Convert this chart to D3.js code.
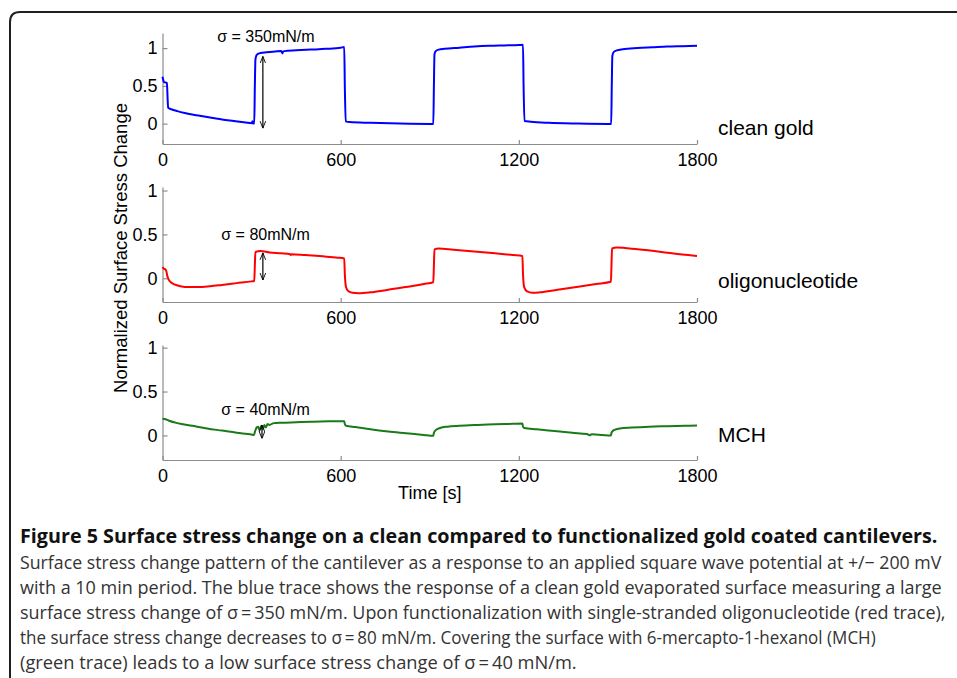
<!DOCTYPE html>
<html>
<head>
<meta charset="utf-8">
<script src="https://cdn.jsdelivr.net/npm/d3@7"></script>
<style>
  html, body { margin: 0; padding: 0; background: #ffffff; }
  svg { display: block; }
</style>
</head>
<body>
<div id="chart"></div>
<script>
// ---------------- data ----------------
const xTicks = [0, 600, 1200, 1800];
const yTicks = [0, 0.5, 1];
const panelNames = ["clean gold", "oligonucleotide", "MCH"];
const sigmaLabels = ["σ = 350mN/m", "σ = 80mN/m", "σ = 40mN/m"];
const xLabel = "Time [s]";
const yLabel = "Normalized Surface Stress Change";

// clean gold (blue) trace: [time s, normalized change]
const cleanGold = [
  [0,0.62],[3,0.57],[5,0.55],[15,0.54],[17,0.35],[19,0.21],[30,0.19],[50,0.165],[75,0.14],
  [100,0.12],[130,0.10],[160,0.08],[200,0.055],[240,0.035],[280,0.015],[300,0.005],[303,0.03],
  [305,0.0],[309,0.0],[311,0.5],[313,0.85],[316,0.9],[320,0.92],[330,0.935],[350,0.945],
  [380,0.955],[400,0.96],[404,0.93],[406,0.955],[410,0.96],[450,0.97],[500,0.98],[550,0.99],
  [600,1.005],[612,1.015],[614,0.5],[617,0.03],[630,0.02],[700,0.01],[800,0.0],[900,-0.005],
  [912,-0.005],[914,0.5],[916,0.92],[920,0.96],[930,0.98],[950,0.99],[1000,1.005],[1050,1.02],
  [1100,1.03],[1150,1.035],[1200,1.04],[1214,1.045],[1216,0.5],[1219,0.035],[1240,0.025],
  [1300,0.01],[1400,0.0],[1500,-0.005],[1511,-0.005],[1513,0.5],[1515,0.9],[1520,0.95],
  [1530,0.97],[1550,0.985],[1600,1.0],[1650,1.01],[1700,1.02],[1750,1.025],[1800,1.03]
];

// oligonucleotide (red) trace
const oligo = [
  [0,0.13],[4,0.11],[10,0.10],[13,0.08],[16,0.03],[20,-0.01],[28,-0.045],[40,-0.07],[60,-0.09],
  [90,-0.1],[120,-0.1],[160,-0.09],[200,-0.075],[250,-0.055],[300,-0.035],[309,-0.03],[311,0.15],
  [313,0.3],[330,0.31],[360,0.295],[400,0.285],[430,0.275],[432,0.265],[434,0.275],[480,0.265],
  [540,0.25],[590,0.235],[612,0.225],[614,0.05],[618,-0.1],[625,-0.145],[640,-0.165],[660,-0.17],
  [700,-0.16],[760,-0.13],[820,-0.1],[880,-0.065],[912,-0.045],[914,0.15],[916,0.33],[930,0.34],
  [980,0.325],[1050,0.305],[1120,0.285],[1180,0.265],[1212,0.255],[1214,0.05],[1218,-0.1],
  [1228,-0.15],[1245,-0.165],[1270,-0.16],[1330,-0.13],[1400,-0.095],[1460,-0.065],[1510,-0.04],
  [1512,0.15],[1514,0.34],[1530,0.35],[1600,0.33],[1680,0.3],[1750,0.27],[1800,0.255]
];

// MCH (green) trace
const mch = [
  [0,0.19],[10,0.185],[20,0.17],[50,0.14],[100,0.11],[150,0.08],[200,0.055],[250,0.03],[300,0.01],
  [308,0.005],[312,0.05],[317,0.09],[322,0.10],[327,0.06],[333,0.11],[338,0.07],[343,0.12],
  [348,0.09],[354,0.13],[360,0.12],[375,0.14],[400,0.145],[450,0.15],[500,0.155],[560,0.16],
  [612,0.162],[614,0.13],[618,0.11],[650,0.095],[700,0.07],[760,0.045],[820,0.025],[880,0.005],
  [912,-0.005],[914,0.03],[920,0.06],[935,0.085],[960,0.1],[1000,0.11],[1060,0.12],[1120,0.128],
  [1180,0.132],[1212,0.135],[1214,0.1],[1218,0.085],[1260,0.07],[1320,0.05],[1380,0.03],
  [1430,0.015],[1438,0.003],[1446,0.012],[1480,0.005],[1510,-0.002],[1512,0.03],[1520,0.06],
  [1540,0.08],[1580,0.09],[1640,0.1],[1700,0.105],[1760,0.11],[1800,0.112]
];

// double arrows marking sigma: [time, top value, bottom value]
const sigmaArrows = [
  [338, 0.89, -0.06],
  [338, 0.29, -0.02],
  [335, 0.12, -0.035]
];

const captionTitle = "Figure 5 Surface stress change on a clean compared to functionalized gold coated cantilevers.";
const captionLines = [
  "Surface stress change pattern of the cantilever as a response to an applied square wave potential at +/\u2212 200 mV",
  "with a 10 min period. The blue trace shows the response of a clean gold evaporated surface measuring a large",
  "surface stress change of \u03c3\u2009=\u2009350 mN/m. Upon functionalization with single-stranded oligonucleotide (red trace),",
  "the surface stress change decreases to \u03c3\u2009=\u200980 mN/m. Covering the surface with 6-mercapto-1-hexanol (MCH)",
  "(green trace) leads to a low surface stress change of \u03c3\u2009=\u200940 mN/m."
];

// ---------------- layout ----------------
const W = 957, H = 678;
const series = [cleanGold, oligo, mch];
const colors = ["#0000ff", "#ff0000", "#1a7a1a"];
const panels = [
  {top: 33,  bottom: 144, dom: [-0.27, 1.2]},
  {top: 187, bottom: 302, dom: [-0.27, 1.04]},
  {top: 345, bottom: 460, dom: [-0.28, 1.03]}
];
const sigmaPos = [[184, 1.08], [198, 0.437], [198, 0.233]];
const nameBaselines = [135, 288, 442];
const chartFont = "'Liberation Sans', Arial, Helvetica, sans-serif";

const svg = d3.select("#chart").append("svg")
  .attr("width", W).attr("height", H)
  .attr("viewBox", `0 0 ${W} ${H}`);

svg.append("rect").attr("width", W).attr("height", H).attr("fill", "#fff");

// frame (top and left border with rounded corner)
svg.append("path")
  .attr("d", `M 10 ${H} L 10 22 Q 10 12 20 12 L ${W} 12`)
  .attr("fill", "none").attr("stroke", "#231f20").attr("stroke-width", 2);

// arrow markers
const defs = svg.append("defs");
defs.append("marker").attr("id", "ahEnd")
  .attr("viewBox", "0 0 10 10").attr("refX", 10).attr("refY", 5)
  .attr("markerWidth", 7).attr("markerHeight", 7).attr("markerUnits", "userSpaceOnUse")
  .attr("orient", "auto")
  .append("path").attr("d", "M0,1 L10,5 L0,9").attr("fill", "none").attr("stroke", "#000").attr("stroke-width", 1.3);
defs.append("marker").attr("id", "ahStart")
  .attr("viewBox", "0 0 10 10").attr("refX", 0).attr("refY", 5)
  .attr("markerWidth", 7).attr("markerHeight", 7).attr("markerUnits", "userSpaceOnUse")
  .attr("orient", "auto")
  .append("path").attr("d", "M10,1 L0,5 L10,9").attr("fill", "none").attr("stroke", "#000").attr("stroke-width", 1.3);

const x = d3.scaleLinear().domain([0, 1800]).range([162.5, 697]);

panels.forEach((p, i) => {
  const y = d3.scaleLinear().domain(p.dom).range([p.bottom, p.top]);
  const g = svg.append("g");

  // x axis
  const xa = g.append("g").attr("transform", `translate(0,${p.bottom})`)
    .call(d3.axisBottom(x).tickValues(xTicks).tickFormat(d3.format("d"))
      .tickSizeInner(-4).tickSizeOuter(0).tickPadding(9));
  // y axis
  const ya = g.append("g").attr("transform", `translate(${x(0)},0)`)
    .call(d3.axisLeft(y).tickValues(yTicks).tickFormat(d => String(d))
      .tickSizeInner(-5).tickSizeOuter(0).tickPadding(5));

  [xa, ya].forEach(a => {
    a.select(".domain").attr("stroke", "#8c8c8c").attr("stroke-width", 1.2);
    a.selectAll(".tick line").attr("stroke", "#8c8c8c").attr("stroke-width", 1.2);
    a.selectAll(".tick text").attr("fill", "#000").style("font-family", chartFont).style("font-size", "18px");
  });

  // trace
  const line = d3.line().x(d => x(d[0])).y(d => y(d[1])).curve(d3.curveMonotoneX);
  g.append("path").datum(series[i])
    .attr("d", line)
    .attr("fill", "none").attr("stroke", colors[i]).attr("stroke-width", 2)
    .attr("stroke-linejoin", "round");

  // sigma arrow
  const a = sigmaArrows[i];
  g.append("line")
    .attr("x1", x(a[0])).attr("x2", x(a[0]))
    .attr("y1", y(a[1])).attr("y2", y(a[2]))
    .attr("stroke", "#000").attr("stroke-width", 1.2)
    .attr("marker-start", "url(#ahStart)").attr("marker-end", "url(#ahEnd)");

  // sigma label
  g.append("text")
    .attr("x", x(sigmaPos[i][0])).attr("y", y(sigmaPos[i][1]))
    .style("font-family", chartFont).style("font-size", "16px").attr("fill", "#000")
    .text(sigmaLabels[i]);

  // panel name
  g.append("text")
    .attr("x", 718).attr("y", nameBaselines[i])
    .style("font-family", chartFont).style("font-size", "21px").attr("fill", "#000")
    .text(panelNames[i]);
});

// axis titles
svg.append("text")
  .attr("x", (x.range()[0] + x.range()[1]) / 2).attr("y", 499)
  .attr("text-anchor", "middle")
  .style("font-family", chartFont).style("font-size", "18px")
  .text(xLabel);

svg.append("text")
  .attr("transform", "translate(127,248) rotate(-90)")
  .attr("text-anchor", "middle")
  .style("font-family", chartFont).style("font-size", "18.5px")
  .text(yLabel);

// caption: condensed by horizontal scaling to the reference widths
const capFont = "'Open Sans', 'Liberation Sans', sans-serif";
function fitText(str, yBase, width, size, weight, fill) {
  const gT = svg.append("g");
  const t = gT.append("text")
    .attr("x", 0).attr("y", 0)
    .style("font-family", capFont).style("font-weight", weight).style("font-size", size + "px")
    .attr("fill", fill)
    .text(str);
  const natural = t.node().getComputedTextLength();
  const k = natural > 0 ? width / natural : 1;
  gT.attr("transform", `translate(20,${yBase}) scale(${k},1)`);
}
fitText(captionTitle, 543, 918, 19.5, "bold", "#111");

const lineLens = [922, 922, 926, 856, 557];
const lineBase = [569, 594, 619, 644, 669];
captionLines.forEach((t, i) => fitText(t, lineBase[i], lineLens[i], 18, "normal", "#333"));
</script>
</body>
</html>
